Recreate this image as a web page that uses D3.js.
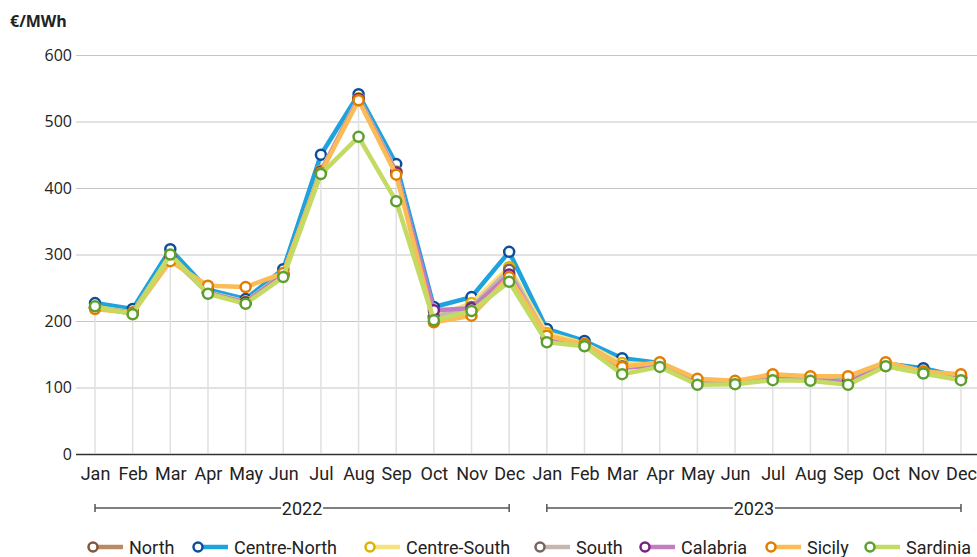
<!DOCTYPE html>
<html>
<head>
<meta charset="utf-8">
<style>
  body { margin: 0; background: #fff; }
  svg text { font-family: Roboto, "Noto Sans", sans-serif; fill: #222; }
  .ytick text { font-family: "Open Sans", "Noto Sans", sans-serif; }
</style>
</head>
<body>
<script src="https://cdn.jsdelivr.net/npm/d3@7"></script>
<script>
    const months = ["Jan", "Feb", "Mar", "Apr", "May", "Jun", "Jul", "Aug", "Sep", "Oct", "Nov", "Dec"];
    const years = ["2022", "2023"];
    const yTicks = [0, 100, 200, 300, 400, 500, 600];

    const seriesNames = ["North", "Centre-North", "Centre-South", "South", "Calabria", "Sicily", "Sardinia"];
    const lineColors = ["#b98a64", "#1fa3dd", "#f8e27e", "#c6b8b0", "#c27fc0", "#fbbb55", "#c3da63"];
    const markerColors = ["#82573a", "#0c4e9c", "#dcb400", "#76655c", "#762481", "#e17d00", "#5e9f2f"];

    const north       = [220, 212, 297, 243, 229, 270, 425, 535, 424, 205, 221, 272, 175, 165, 130, 133, 106, 106, 113, 112, 108, 134, 122, 114];
    const centreNorth = [227, 218, 308, 247, 233, 278, 450, 541, 436, 221, 236, 304, 188, 170, 144, 137, 108, 107, 115, 113, 110, 136, 129, 116];
    const centreSouth = [221, 213, 299, 243, 229, 271, 426, 535, 425, 206, 227, 281, 182, 166, 137, 134, 107, 106, 114, 112, 109, 135, 124, 115];
    const south       = [220, 212, 297, 243, 228, 270, 425, 534, 424, 206, 221, 277, 176, 165, 132, 133, 106, 106, 113, 112, 108, 134, 122, 114];
    const calabria    = [220, 212, 297, 242, 228, 270, 424, 534, 423, 216, 219, 270, 174, 164, 130, 133, 106, 106, 113, 112, 108, 134, 122, 114];
    const sicily      = [218, 212, 290, 253, 251, 272, 423, 532, 420, 198, 208, 266, 178, 165, 131, 138, 113, 110, 120, 117, 117, 138, 124, 120];
    const sardinia    = [222, 210, 300, 241, 226, 266, 421, 477, 380, 201, 215, 259, 168, 162, 120, 131, 104, 105, 111, 110, 104, 132, 121, 111];
    const values = [north, centreNorth, centreSouth, south, calabria, sicily, sardinia];

    const width = 977;
    const height = 557;

    const categories = [];
    years.forEach(yr => months.forEach(m => categories.push(m + " " + yr)));

    const xScale = d3.scalePoint()
        .domain(categories)
        .range([95, 961]);

    const yScale = d3.scaleLinear()
        .domain([0, 600])
        .range([454, 55]);

    const svg = d3.select("body")
        .append("svg")
        .attr("width", width)
        .attr("height", height);

    // horizontal gridlines + y labels
    const yAxis = svg.append("g")
        .attr("class", "ytick")
        .attr("transform", "translate(76,0)")
        .call(d3.axisLeft(yScale).tickValues(yTicks).tickSize(0).tickPadding(4));
    yAxis.select(".domain").remove();
    yAxis.selectAll("text").attr("font-size", 16).attr("fill", "#222");
    yAxis.selectAll(".tick").append("line")
        .attr("x1", 0)
        .attr("x2", width - 76)
        .attr("stroke", d => d === 0 ? "#333" : "#c4c4c4")
        .attr("stroke-width", d => d === 0 ? 1.5 : 1);

    svg.append("text")
        .attr("x", 10)
        .attr("y", 27)
        .attr("font-size", 16)
        .attr("font-weight", "bold")
        .style("font-family", "'Open Sans', 'Noto Sans', sans-serif")
        .text("€/MWh");

    // drop lines from the highest point
    svg.append("g")
        .selectAll("line")
        .data(categories)
        .enter()
        .append("line")
        .attr("x1", d => xScale(d))
        .attr("x2", d => xScale(d))
        .attr("y1", (d, i) => yScale(d3.max(values, s => s[i])))
        .attr("y2", yScale(0) - 1)
        .attr("stroke", "#e0e0e0")
        .attr("stroke-width", 1.5);

    // x labels
    const xAxis = svg.append("g")
        .attr("transform", "translate(0," + yScale(0) + ")")
        .call(d3.axisBottom(xScale).tickSize(0).tickPadding(13).tickFormat(d => d.split(" ")[0]));
    xAxis.select(".domain").remove();
    xAxis.selectAll("text").attr("font-size", 18).attr("fill", "#222");

    // year brackets
    years.forEach(yr => {
        const x0 = xScale("Jan " + yr);
        const x1 = xScale("Dec " + yr);
        const yy = 508;
        const g = svg.append("g");
        g.append("line").attr("x1", x0).attr("x2", x1).attr("y1", yy).attr("y2", yy)
            .attr("stroke", "#555").attr("stroke-width", 1.5);
        g.append("line").attr("x1", x0).attr("x2", x0).attr("y1", yy - 4).attr("y2", yy + 4)
            .attr("stroke", "#555").attr("stroke-width", 1.5);
        g.append("line").attr("x1", x1).attr("x2", x1).attr("y1", yy - 4).attr("y2", yy + 4)
            .attr("stroke", "#555").attr("stroke-width", 1.5);
        g.append("rect").attr("x", (x0 + x1) / 2 - 21).attr("y", yy - 10).attr("width", 42).attr("height", 20)
            .attr("fill", "#fff");
        g.append("text").attr("x", (x0 + x1) / 2).attr("y", yy + 7)
            .attr("text-anchor", "middle").attr("font-size", 18).text(yr);
    });

    // series
    const line = d3.line()
        .x((d, i) => xScale(categories[i]))
        .y(d => yScale(d));

    values.forEach((vals, k) => {
        const g = svg.append("g");
        g.append("path")
            .datum(vals)
            .attr("d", line)
            .attr("fill", "none")
            .attr("stroke", lineColors[k])
            .attr("stroke-width", 4.5)
            .attr("stroke-linejoin", "round");
        g.selectAll("circle")
            .data(vals)
            .enter()
            .append("circle")
            .attr("cx", (d, i) => xScale(categories[i]))
            .attr("cy", d => yScale(d))
            .attr("r", 5)
            .attr("fill", "#fff")
            .attr("stroke", markerColors[k])
            .attr("stroke-width", 2.5);
    });

    // legend
    const legendX = [93, 198, 370, 540, 645, 771, 870];
    const legend = svg.append("g");
    seriesNames.forEach((name, k) => {
        const lx = legendX[k];
        const ly = 547;
        legend.append("line").attr("x1", lx).attr("x2", lx + 30).attr("y1", ly).attr("y2", ly)
            .attr("stroke", lineColors[k]).attr("stroke-width", 4.5);
        legend.append("circle").attr("cx", lx).attr("cy", ly).attr("r", 4.5)
            .attr("fill", "#fff").attr("stroke", markerColors[k]).attr("stroke-width", 2.5);
        legend.append("text").attr("x", lx + 36).attr("y", ly + 7)
            .attr("font-size", 18).text(name);
    });
</script>
</body>
</html>
